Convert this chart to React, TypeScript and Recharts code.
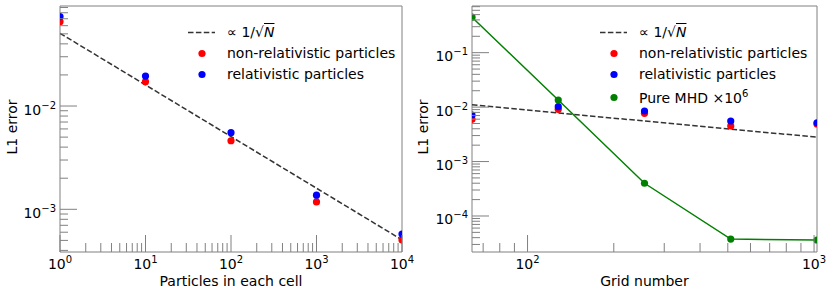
import React from 'react';
import { ComposedChart, Scatter, Line, XAxis, YAxis, ReferenceArea, Legend } from 'recharts';

// left panel: L1 error vs particles per cell
const particlesPerCell = [1, 10, 100, 1000, 10000];
const ppcNonRel = [0.0655, 0.0172, 0.00461, 0.00118, 0.000504];
const ppcRel = [0.0733, 0.0195, 0.00552, 0.00137, 0.000575];
const ppcFitX = [1, 10000];
const ppcFitY = [0.0506, 0.000506];

// right panel: L1 error vs grid number
const gridNumber = [64, 128, 256, 512, 1024];
const gridNonRel = [0.00597, 0.0091, 0.00769, 0.0045, 0.0049];
const gridRel = [0.00716, 0.0102, 0.00848, 0.00556, 0.00516];
const gridMhd = [0.448, 0.0135, 0.000399, 0.0000377, 0.0000362];
const gridFitX = [64, 1024];
const gridFitY = [0.011, 0.0028];

// axis ranges and titles
const ppcXDomain = [1, 10000];
const ppcYDomain = [0.000386, 0.093];
const gridXDomain = [64, 1024];
const gridYDomain = [0.0000218, 0.72];
const ppcXTitle = 'Particles in each cell';
const gridXTitle = 'Grid number';
const yTitle = 'L1 error';
const nonRelLabel = 'non-relativistic particles';
const relLabel = 'relativistic particles';
const mhdLabel = 'Pure MHD ×10';

const FONT = "'DejaVu Sans', sans-serif";
const FS = 14;
const SUP = 10;
const SPINE = '#808080';

const zip = (xs: number[], ys: number[]) => xs.map((x, i) => ({ x, y: ys[i] }));

// decades plus 2..9 minor ticks inside the range
const logTicks = (lo: number, hi: number) => {
    const out: number[] = [];
    for (let e = Math.floor(Math.log10(lo)); e <= Math.ceil(Math.log10(hi)); e++) {
        for (let m = 1; m < 10; m++) {
            const v = m * Math.pow(10, e);
            if (v >= lo * 0.9999 && v <= hi * 1.0001) out.push(v);
        }
    }
    return out;
};

const isDecade = (v: number) => Math.abs(Math.log10(v) - Math.round(Math.log10(v))) < 1e-6;
const expText = (v: number) => {
    const e = Math.round(Math.log10(v));
    return e < 0 ? '\u2212' + Math.abs(e) : String(e);
};

const XTick = ({ x, y, payload }: any) => {
    const major = isDecade(payload.value);
    return (
        <g>
            <line x1={x} y1={y} x2={x} y2={y - (major ? 17 : 9)} stroke={SPINE} strokeWidth={1} />
            {major && (
                <text x={x} y={y + 16.5} textAnchor="middle" fontSize={FS} fontFamily={FONT} fill="#000">
                    10<tspan dy={-6} fontSize={SUP}>{expText(payload.value)}</tspan>
                </text>
            )}
        </g>
    );
};

const YTick = ({ x, y, payload }: any) => {
    const major = isDecade(payload.value);
    return (
        <g>
            <line x1={x} y1={y} x2={x + (major ? 17 : 8)} y2={y} stroke={SPINE} strokeWidth={1} />
            {major && (
                <text x={x - 4} y={y + 8.5} textAnchor="end" fontSize={FS} fontFamily={FONT} fill="#000">
                    10<tspan dy={-6} fontSize={SUP}>{expText(payload.value)}</tspan>
                </text>
            )}
        </g>
    );
};

const Dot = (color: string) => (p: any) => <circle cx={p.cx} cy={p.cy} r={3.6} fill={color} />;

type Row = { kind: 'dash' | 'dot'; color: string; label: React.ReactNode; gap?: number };

const LegendBox = ({ rows }: { rows: Row[] }) => (
    <div style={{ fontFamily: FONT, fontSize: FS, color: '#000' }}>
        {rows.map((r, i) => (
            <div key={i} style={{ display: 'flex', alignItems: 'center', height: 21, marginTop: r.gap || 0 }}>
                <svg width={39} height={21} style={{ flex: 'none' }}>
                    {r.kind === 'dash' ? (
                        <line x1={0} y1={10.5} x2={27} y2={10.5} stroke="#333" strokeWidth={1.5} strokeDasharray="5.5 2.4" />
                    ) : (
                        <circle cx={14} cy={10.5} r={3.6} fill={r.color} />
                    )}
                </svg>
                <span style={{ whiteSpace: 'nowrap' }}>{r.label}</span>
            </div>
        ))}
    </div>
);

const fitText = (
    <span>
        ∝ 1/√<span style={{ fontStyle: 'italic', textDecoration: 'overline' }}>N</span>
    </span>
);

interface PanelProps {
    xDomain: number[];
    yDomain: number[];
    xTitle: string;
    yAxisWidth: number;
    yTitleX: number;
    legendLeft: number;
    fit: { x: number; y: number }[];
    nonRel: { x: number; y: number }[];
    rel: { x: number; y: number }[];
    mhd?: { x: number; y: number }[];
}

function Panel({ xDomain, yDomain, xTitle, yAxisWidth, yTitleX, legendLeft, fit, nonRel, rel, mhd }: PanelProps) {
    const rows: Row[] = [
        { kind: 'dash', color: '#333', label: fitText },
        { kind: 'dot', color: 'red', label: nonRelLabel },
        { kind: 'dot', color: 'blue', label: relLabel },
    ];
    if (mhd) rows.push({ kind: 'dot', color: 'green', label: <span>{mhdLabel}<sup style={{ fontSize: SUP }}>6</sup></span>, gap: 2.5 });

    return (
        <ComposedChart width={415} height={295} margin={{ top: 6, right: 13, bottom: 0, left: 0 }}>
            <XAxis
                dataKey="x"
                type="number"
                scale="log"
                domain={xDomain}
                allowDataOverflow
                ticks={logTicks(xDomain[0], xDomain[1])}
                interval={0}
                tick={(p: any) => <XTick {...p} />}
                tickLine={false}
                axisLine={false}
                tickSize={0}
                tickMargin={0}
                height={43}
                label={(p: any) => (
                    <text x={p.viewBox.x + p.viewBox.width / 2} y={p.viewBox.y + 34} textAnchor="middle" fontSize={FS} fontFamily={FONT} fill="#000">
                        {xTitle}
                    </text>
                )}
            />
            <YAxis
                dataKey="y"
                type="number"
                scale="log"
                domain={yDomain}
                allowDataOverflow
                ticks={logTicks(yDomain[0], yDomain[1])}
                interval={0}
                tick={(p: any) => <YTick {...p} />}
                tickLine={false}
                axisLine={false}
                tickSize={0}
                tickMargin={0}
                width={yAxisWidth}
                label={(p: any) => {
                    const cy = p.viewBox.y + p.viewBox.height / 2 - 2;
                    return (
                        <text x={yTitleX} y={cy} transform={`rotate(-90, ${yTitleX}, ${cy})`} textAnchor="middle" fontSize={FS} fontFamily={FONT} fill="#000">
                            {yTitle}
                        </text>
                    );
                }}
            />
            <Line data={fit} dataKey="y" stroke="#333" strokeWidth={1.5} strokeDasharray="5.5 2.4" dot={false} isAnimationActive={false} />
            <Scatter data={nonRel} fill="red" shape={Dot('red')} isAnimationActive={false} />
            <Scatter data={rel} fill="blue" shape={Dot('blue')} isAnimationActive={false} />
            {mhd && (
                <Line data={mhd} dataKey="y" stroke="green" strokeWidth={1.5} dot={{ r: 3.6, fill: 'green', stroke: 'none' }} isAnimationActive={false} />
            )}
            <ReferenceArea x1={xDomain[0]} x2={xDomain[1]} y1={yDomain[0]} y2={yDomain[1]} fill="none" stroke={SPINE} strokeWidth={1} ifOverflow="visible" />
            <Legend
                layout="vertical"
                align="center"
                verticalAlign="middle"
                content={() => <LegendBox rows={rows} />}
                wrapperStyle={{ left: legendLeft, top: 21.5, width: 'auto', height: 'auto' }}
            />
        </ComposedChart>
    );
}

export default function App() {
    return (
        <div style={{ position: 'absolute', left: 0, top: 0, width: 830, height: 295, display: 'flex', background: '#fff' }}>
            <Panel
                xDomain={ppcXDomain}
                yDomain={ppcYDomain}
                xTitle={ppcXTitle}
                yAxisWidth={60}
                yTitleX={17}
                legendLeft={188}
                fit={zip(ppcFitX, ppcFitY)}
                nonRel={zip(particlesPerCell, ppcNonRel)}
                rel={zip(particlesPerCell, ppcRel)}
            />
            <Panel
                xDomain={gridXDomain}
                yDomain={gridYDomain}
                xTitle={gridXTitle}
                yAxisWidth={57}
                yTitleX={13}
                legendLeft={185}
                fit={zip(gridFitX, gridFitY)}
                nonRel={zip(gridNumber, gridNonRel)}
                rel={zip(gridNumber, gridRel)}
                mhd={zip(gridNumber, gridMhd)}
            />
        </div>
    );
}
